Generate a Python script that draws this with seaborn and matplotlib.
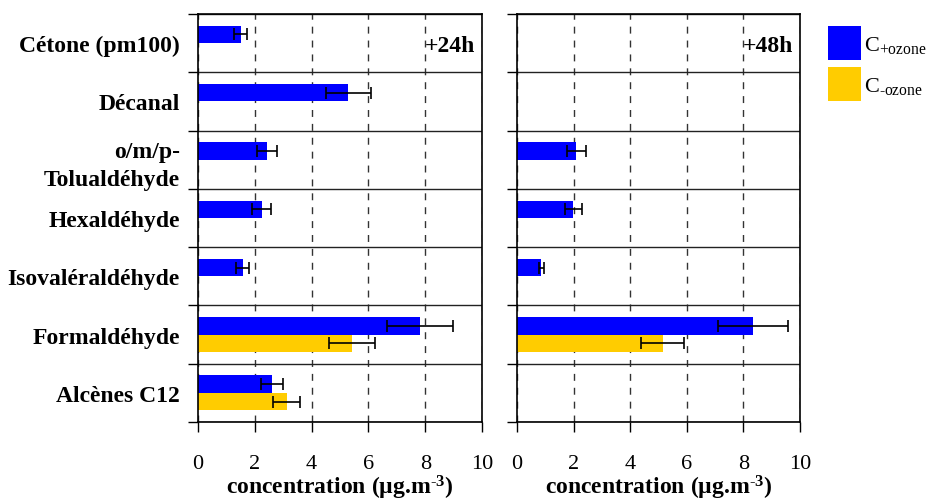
import numpy as np
import pandas as pd
import matplotlib
matplotlib.use("Agg")
import matplotlib.pyplot as plt
import seaborn as sns

nan = np.nan

categories = ["Cétone (pm100)", "Décanal", "o/m/p-\nTolualdéhyde", "Hexaldéhyde",
              "Isovaléraldéhyde", "Formaldéhyde", "Alcènes C12"]

plus_24h = [1.50, 5.29, 2.43, 2.24, 1.58, 7.83, 2.61]
plus_24h_err = [0.22, 0.80, 0.36, 0.33, 0.23, 1.16, 0.39]
minus_24h = [nan, nan, nan, nan, nan, 5.42, 3.12]
minus_24h_err = [nan, nan, nan, nan, nan, 0.80, 0.47]

plus_48h = [nan, nan, 2.10, 1.99, 0.86, 8.34, nan]
plus_48h_err = [nan, nan, 0.33, 0.30, 0.10, 1.24, nan]
minus_48h = [nan, nan, nan, nan, nan, 5.15, nan]
minus_48h_err = [nan, nan, nan, nan, nan, 0.76, nan]

conditions = ["plus", "minus"]
legend_labels = [r"C$_{\text{+ozone}}$", r"C$_{\text{-ozone}}$"]
panel_titles = ["+24h", "+48h"]
x_ticks = [0, 2, 4, 6, 8, 10]
colors = {"plus": "#0000FF", "minus": "#FFCC00"}


def make_frame(plus, plus_err, minus, minus_err):
    rows = []
    for i, c in enumerate(categories):
        rows.append(dict(cat=c, cond="plus", value=plus[i], err=plus_err[i]))
        rows.append(dict(cat=c, cond="minus", value=minus[i], err=minus_err[i]))
    return pd.DataFrame(rows)


frames = [make_frame(plus_24h, plus_24h_err, minus_24h, minus_24h_err),
          make_frame(plus_48h, plus_48h_err, minus_48h, minus_48h_err)]

sns.set_style("white")
plt.rcParams["font.family"] = ["Liberation Serif", "DejaVu Serif"]
plt.rcParams["mathtext.fontset"] = "custom"
plt.rcParams["mathtext.rm"] = "Liberation Serif"
plt.rcParams["mathtext.bf"] = "Liberation Serif:bold"
plt.rcParams["mathtext.it"] = "Liberation Serif:italic"
for key in ["text.color", "axes.labelcolor", "xtick.color", "ytick.color",
            "axes.edgecolor"]:
    plt.rcParams[key] = "black"

fig = plt.figure(figsize=(9.29, 5.02), dpi=100)
ax1 = fig.add_axes([198 / 929, 1 - 423 / 502, 284 / 929, 408 / 502])
ax2 = fig.add_axes([517 / 929, 1 - 423 / 502, 283 / 929, 408 / 502])
axes = [ax1, ax2]

legend_handles = None
for k, (ax, df) in enumerate(zip(axes, frames)):
    d = df.dropna(subset=["value"])
    sns.barplot(data=d, x="value", y="cat", hue="cond", order=categories,
                hue_order=conditions, palette=colors, saturation=1, orient="h",
                width=0.6, errorbar=None, linewidth=0, ax=ax, legend=(k == 0))
    if k == 0:
        leg = ax.get_legend()
        legend_handles = list(leg.legend_handles)
        leg.remove()

    # error bars
    lookup = {(r.cat, r.cond): r.err for r in df.itertuples()}
    for p in ax.patches:
        w = p.get_width()
        if not np.isfinite(w) or w == 0:
            continue
        yc = p.get_y() + p.get_height() / 2
        idx = int(round(yc))
        cond = "plus" if yc < idx else "minus"
        err = lookup[(categories[idx], cond)]
        ax.errorbar(w, yc, xerr=err, fmt="none", ecolor="black",
                    elinewidth=1.2, capsize=4, capthick=1.2, zorder=5)

    ax.set_xlim(0, 10)
    ax.set_xticks(x_ticks)
    ax.set_xticklabels([str(t) for t in x_ticks])
    ax.set_ylim(6.5, -0.5)
    ax.set_yticks(np.arange(-0.5, 7, 1))
    ax.set_yticklabels([])
    ax.set_yticks(range(len(categories)), minor=True)
    if k == 0:
        ax.set_yticklabels(categories, minor=True, fontweight="bold",
                           linespacing=1.45)
    else:
        ax.set_yticklabels([], minor=True)
    ax.tick_params(axis="y", which="major", direction="out", length=7,
                   width=1, color="black", left=True)
    ax.tick_params(axis="y", which="minor", length=0, pad=13, labelsize=17)
    ax.tick_params(axis="x", direction="out", length=7, width=1,
                   color="black", labelsize=16, pad=16, bottom=True)
    ax.set_axisbelow(True)
    ax.grid(axis="x", which="major", ls=(0, (5, 5)), color="#333333", lw=1)
    ax.grid(axis="y", which="major", ls="-", color="#222222", lw=1)
    ax.grid(axis="y", which="minor", visible=False)
    ax.set_ylabel("")
    ax.set_xlabel(r"concentration (µg.m$^{\text{-}\mathbf{3}}$)",
                  fontweight="bold", fontsize=17, labelpad=0)
    for sp in ax.spines.values():
        sp.set_visible(True)
        sp.set_color("black")
        sp.set_linewidth(1.2)
    ax.text(0.975, 0.922, panel_titles[k], transform=ax.transAxes,
            ha="right", va="center", fontweight="bold", fontsize=17)

fig.legend(legend_handles, legend_labels, loc="upper left",
           bbox_to_anchor=(828 / 929, 1 - 27 / 502), frameon=False,
           fontsize=16, handlelength=1.5, handleheight=1.98, labelspacing=0.3,
           handletextpad=0.1, borderpad=0, borderaxespad=0)

fig.savefig("out.png", dpi=100)
